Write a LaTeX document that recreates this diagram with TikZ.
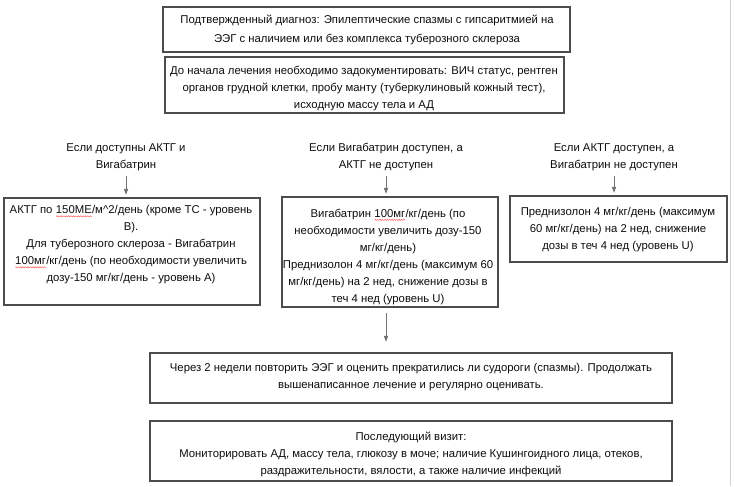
\documentclass[tikz,border=0pt]{standalone}
\usepackage{fontspec}
\setmainfont{Liberation Sans}
\usetikzlibrary{arrows.meta,fit,decorations.pathmorphing}
\newcommand\redwave[1]{\tikz[baseline=(w.base),x=1pt,y=1pt]{\node[inner sep=0pt,outer sep=0pt] (w) {#1};\draw[red!65, line width=0.35pt, decorate, decoration={snake, amplitude=0.45pt, segment length=1.8pt}] ([yshift=-1.8pt]w.base west) -- ([yshift=-1.8pt]w.base east);}}
\begin{document}
\begin{tikzpicture}[x=0.75pt,y=-0.75pt,
  box/.style={draw=black!70, line width=0.8pt, inner sep=0pt},
  txt/.style={align=center, inner sep=0pt, text=black!95, font=\fontsize{8.5}{12.75}\selectfont},
  arr/.style={draw=black!55, line width=0.6pt, -{Triangle[length=4.5pt,width=3.2pt]}}]
\useasboundingbox (0,0) rectangle (734,486);
\draw[black!18, line width=0.75pt] (730,0) -- (730,486);
% boxes
\node[box, fit={(163,7)(570,52)}] (b1) {};
\node[box, fit={(165,57)(564,113)}] (b2) {};
\node[box, fit={(4,198)(260,305)}] (b3) {};
\node[box, fit={(282,197)(498,307)}] (b4) {};
\node[box, fit={(510,196)(727,262)}] (b5) {};
\node[box, fit={(150,353)(672,403)}] (b6) {};
\node[box, fit={(150,421)(672,481)}] (b7) {};
% texts
\node[txt] (t1) at (367,30) {Подтвержденный диагноз: Эпилептические спазмы с гипсаритмией на\\[1pt]ЭЭГ с наличием или без комплекса туберозного склероза};
\node[txt] (t2) at (364,89) {До начала лечения необходимо задокументировать: ВИЧ статус, рентген\\органов грудной клетки, пробу манту (туберкулиновый кожный тест),\\исходную массу тела и АД};
\node[txt] (l1) at (126,157) {Если доступны АКТГ и\\Вигабатрин};
\node[txt] (l2) at (386,157) {Если Вигабатрин доступен, а\\АКТГ не доступен};
\node[txt] (l3) at (614,157) {Если АКТГ доступен, а\\Вигабатрин не доступен};
\node[txt] (t3) at (131,245) {АКТГ по \redwave{150МЕ}/м\^{}2/день (кроме ТС - уровень\\В).\\Для туберозного склероза - Вигабатрин\\\redwave{100мг}/кг/день (по необходимости увеличить\\дозу-150 мг/кг/день - уровень А)};
\node[txt] (t4) at (388,257) {Вигабатрин \redwave{100мг}/кг/день (по\\необходимости увеличить дозу-150\\мг/кг/день)\\Преднизолон 4 мг/кг/день (максимум 60\\мг/кг/день) на 2 нед, снижение дозы в\\теч 4 нед (уровень U)};
\node[txt] (t5) at (618,230) {Преднизолон 4 мг/кг/день (максимум\\60 мг/кг/день) на 2 нед, снижение\\дозы в теч 4 нед (уровень U)};
\node[txt] (t6) at (411,377) {Через 2 недели повторить ЭЭГ и оценить прекратились ли судороги (спазмы). Продолжать\\вышенаписанное лечение и регулярно оценивать.};
\node[txt] (t7) at (411,454) {Последующий визит:\\Мониторировать АД, массу тела, глюкозу в моче; наличие Кушингоидного лица, отеков,\\раздражительности, вялости, а также наличие инфекций};
% arrows
\draw[arr, shorten <=4pt, shorten >=2pt] (l1.south) -- (l1.south |- b3.north);
\draw[arr, shorten <=4pt, shorten >=2pt] (l2.south) -- (l2.south |- b4.north);
\draw[arr, shorten <=4pt, shorten >=2pt] (l3.south) -- (l3.south |- b5.north);
\draw[arr, shorten <=4pt, shorten >=8pt] (l2.south |- b4.south) -- (l2.south |- b6.north);
\end{tikzpicture}
\end{document}
